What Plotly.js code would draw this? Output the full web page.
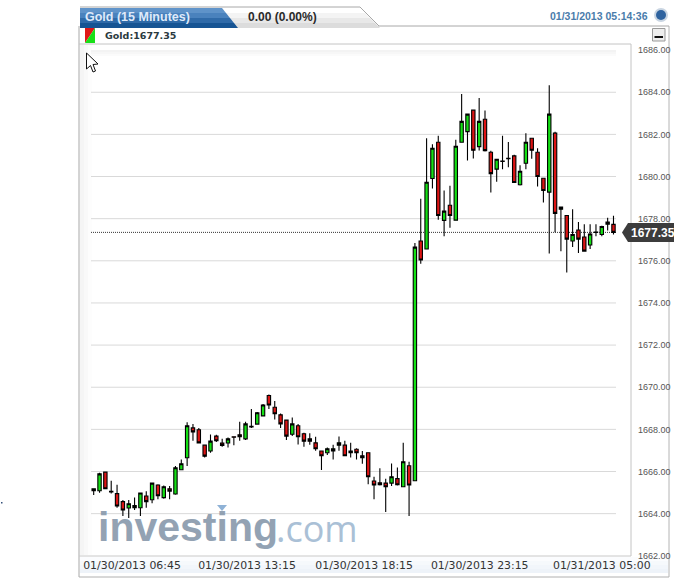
<!DOCTYPE html>
<html><head><meta charset="utf-8">
<script src="https://cdn.plot.ly/plotly-3.0.1.min.js"></script>
<style>html,body{margin:0;padding:0;background:#fff}#c{width:674px;height:579px}</style>
</head><body><div id="c"></div>
<script>
const opens=[1665.09,1665.09,1665.97,1665.06,1664.95,1664.57,1664.27,1664.28,1664.28,1664.84,
1664.66,1665.36,1664.76,1665.18,1664.93,1666.08,1666.65,1668.07,1667.98,1667.25,
1666.97,1667.68,1667.35,1667.35,1667.65,1667.74,1667.55,1668.15,1668.25,1668.64,
1669.61,1669.05,1668.69,1668.44,1667.77,1668.17,1667.79,1667.55,1667.36,1666.97,
1666.89,1666.98,1667.25,1667.25,1666.89,1667.06,1666.75,1666.89,1665.55,1665.47,
1665.45,1665.45,1665.66,1665.28,1666.27,1665.56,1676.94,1676.56,1679.91,1681.63,
1677.92,1678.64,1677.93,1681.63,1682.13,1683.15,1681.42,1682.72,1681.15,1680.35,
1680.74,1680.87,1680.98,1679.61,1680.63,1681.82,1681.15,1679.92,1679.26,1682.06,
1678.45,1678.15,1676.94,1677.46,1677.13,1676.75,1677.36,1677.25,1677.74,1677.73];
const highs=[1665.18,1665.94,1666.00,1665.56,1665.37,1664.65,1664.65,1664.77,1664.99,1665.06,
1665.47,1665.39,1665.34,1665.31,1666.26,1666.57,1668.34,1668.26,1668.06,1667.27,
1667.76,1667.74,1667.55,1667.62,1667.65,1668.36,1668.36,1668.97,1668.83,1669.20,
1669.65,1669.35,1668.75,1668.47,1668.56,1668.26,1667.84,1667.81,1667.65,1667.00,
1667.14,1667.27,1667.66,1667.46,1667.36,1667.10,1666.97,1666.91,1665.75,1666.16,
1665.66,1666.38,1666.19,1667.36,1666.46,1676.84,1678.94,1681.82,1681.53,1681.93,
1679.34,1679.56,1681.74,1683.92,1682.96,1683.15,1683.73,1683.13,1681.22,1680.82,
1681.93,1681.64,1681.03,1680.54,1682.06,1681.82,1681.34,1679.92,1684.33,1682.13,
1678.55,1678.15,1678.45,1677.84,1677.74,1677.74,1677.74,1677.66,1678.04,1678.14];
const lows=[1664.88,1664.99,1665.18,1664.96,1664.28,1663.89,1663.79,1664.17,1663.89,1664.28,
1664.49,1664.68,1664.71,1664.68,1664.90,1666.07,1666.26,1667.46,1667.33,1666.67,
1666.89,1667.40,1667.17,1667.14,1667.25,1667.46,1667.49,1668.07,1668.22,1668.63,
1668.97,1668.47,1668.07,1667.49,1667.68,1667.28,1667.17,1667.27,1666.98,1666.07,
1666.78,1666.57,1666.98,1666.72,1666.67,1666.57,1666.37,1665.39,1664.68,1665.34,
1664.08,1665.31,1665.34,1665.26,1663.89,1665.56,1675.86,1676.56,1679.43,1677.95,
1677.16,1677.57,1677.93,1681.61,1680.76,1680.85,1681.23,1681.19,1679.24,1679.75,
1680.35,1680.44,1679.72,1679.58,1680.35,1680.84,1679.53,1678.77,1676.35,1677.35,
1676.45,1675.45,1676.65,1676.37,1676.43,1676.56,1677.16,1677.16,1677.44,1677.25];
const closes=[1665.18,1665.89,1665.18,1665.03,1664.36,1664.17,1664.47,1664.38,1664.98,1664.57,
1665.45,1664.85,1665.28,1665.07,1666.18,1666.37,1668.17,1667.88,1667.36,1666.73,
1667.44,1667.46,1667.24,1667.55,1667.63,1667.65,1668.26,1668.12,1668.79,1669.16,
1669.16,1668.74,1668.26,1667.68,1668.26,1667.65,1667.44,1667.44,1667.08,1666.75,
1667.08,1667.08,1667.36,1666.75,1666.97,1666.89,1666.65,1665.75,1665.36,1665.37,
1665.28,1665.75,1665.37,1666.46,1665.36,1676.65,1676.04,1679.73,1681.34,1678.15,
1678.36,1678.15,1681.44,1682.62,1682.96,1681.25,1682.62,1681.23,1680.14,1680.82,
1680.71,1680.85,1679.72,1680.25,1681.63,1681.25,1680.00,1679.34,1682.96,1678.25,
1678.55,1677.03,1677.25,1677.03,1676.46,1677.27,1677.35,1677.63,1677.84,1677.35];
const yTicks=[1686,1684,1682,1680,1678,1676,1674,1672,1670,1668,1666,1664,1662];
const gridLevels=[1684,1682,1680,1678,1676,1674,1672,1670,1668,1666,1664];
const xTickPos=[6.56,26.25,46.3,66.1,87];
const xTickText=['01/30/2013 06:45','01/30/2013 13:15','01/30/2013 18:15','01/30/2013 23:15','01/31/2013 05:00'];
const lastPrice=1677.35;

const L=91,R=616,T=44,B=556;
const px=x=>(x-L)/(R-L), py=y=>(B-y)/(B-T);
const P=(d)=>d.replace(/(-?[\d.]+),(-?[\d.]+)/g,(m,a,b)=>px(+a)+','+py(+b));
const rect=(x0,y0,x1,y1,fill,line)=>({type:'rect',xref:'paper',yref:'paper',x0:px(x0),x1:px(x1),y0:py(y0),y1:py(y1),fillcolor:fill,line:line?{color:line,width:1}:{width:0},layer:'below'});
const seg=(x0,y0,x1,y1,c,w)=>({type:'line',xref:'paper',yref:'paper',x0:px(x0),x1:px(x1),y0:py(y0),y1:py(y1),line:{color:c,width:w||1},layer:'below'});
const poly=(d,fill,line,w,layer)=>({type:'path',xref:'paper',yref:'paper',path:P(d),fillcolor:fill,line:line?{color:line,width:w||1}:{width:0},layer:layer||'above'});

const shapes=[];
// frame
shapes.push(seg(79,26,79,577,'#a8a8a8'),seg(79,577,669,577,'#b0b0b0'),seg(669,26,669,577,'#b4b4b4'));
shapes.push(seg(378,26,669,26,'#a8a8a8'),seg(79,44,631,44,'#c4c4c4'),seg(631,44,631,556,'#c4c4c4'),seg(79,556,631,556,'#c8c8c8'));
// bottom strip + side fades
['#fbfcfe','#f6f9fc','#f2f6fb','#eef3f9'].forEach((c,i)=>shapes.push(rect(80,557+i*4,668,561+i*4,c)));
['#f5f5f5','#f9f9f9','#fdfdfd'].forEach((c,i)=>shapes.push(rect(80+i*4,45,84+i*4,555,c)));
['#f3f3f3','#f7f7f7','#fbfbfb'].forEach((c,i)=>shapes.push(rect(91,50+i*2,616,52+i*2,c)));
// gray tab
['#ffffff','#f4f4f4','#e8e8e8','#dcdcdc'].forEach((c,i)=>shapes.push(poly(`M 225,${8+i*5} L ${360+i*5},${8+i*5} L ${365+i*5},${13+i*5} L 225,${13+i*5} Z`,c,null,1,'below')));
shapes.push(seg(80,7,360,7,'#a8a8a8'),seg(360,7,379,26,'#a8a8a8'));
// blue tab
['#5f93c9','#4a82bd','#2f6aa8','#165493'].forEach((c,i)=>shapes.push(poly(`M 80,${8+i*5} L ${222+i*4},${8+i*5} L ${226+i*4},${13+i*5} L 80,${13+i*5} Z`,c,null,1,'below')));
// legend swatch
shapes.push(poly('M 85,28 L 95,28 L 85,43 Z','#e01818'),poly('M 95,28 L 95,43 L 85,43 Z','#18e018'));
// minimize button
shapes.push({type:'rect',xref:'paper',yref:'paper',x0:px(652.5),x1:px(665),y0:py(41),y1:py(28.5),fillcolor:'#eeeeee',line:{color:'#9a9a9a',width:1}},rect(654.5,36,663,38,'#111'));
shapes[shapes.length-1].layer='above';
// ball
shapes.push({type:'circle',xref:'paper',yref:'paper',x0:px(654),x1:px(668),y0:py(22),y1:py(8),fillcolor:'#c9d5e2',line:{width:0}});
shapes.push({type:'circle',xref:'paper',yref:'paper',x0:px(656),x1:px(666),y0:py(20),y1:py(10),fillcolor:'#2f639f',line:{width:0}});
// cursor
shapes.push(poly('M 86.5,53 L 86.5,69 L 90.5,65.5 L 93,72 L 95.5,71 L 93,64.5 L 98,64 Z','#ffffff','#111111',1));
// stray dot
shapes.push(rect(1,502,2.5,503.5,'#34507a'));
// grid
gridLevels.forEach(v=>shapes.push({type:'line',xref:'paper',yref:'y',x0:0,x1:1,y0:v,y1:v,line:{color:'#d9d9d9',width:1},layer:'below'}));
// last price line
shapes.push({type:'line',xref:'paper',yref:'y',x0:0,x1:1,y0:lastPrice,y1:lastPrice,line:{color:'#333',width:1,dash:'1px,1px'},layer:'below'});
// price tag
shapes.push(poly('M 622,232.5 L 628,223 L 674,223 L 674,242 L 628,242 Z','#3c3c3c'));

const ann=(text,x,y,size,color,family,extra)=>Object.assign({text,xref:'paper',yref:'paper',x:px(x),y:py(y),xanchor:'left',yanchor:'middle',showarrow:false,font:{size,color,family}},extra||{});
const SANS='"Liberation Sans",Arial,sans-serif', DJ='"DejaVu Sans",Verdana,sans-serif';
const annotations=[
 ann('<b>Gold (15 Minutes)</b>',83,17,12.5,'#dfeafa',SANS),
 ann('<b>0.00 (0.00%)</b>',246,17,12,'#2a2a2a',SANS),
 ann('<b>01/31/2013 05:14:36</b>',650,16,10.5,'#4a7cab',SANS,{xanchor:'right'}),
 ann('<b>Gold:1677.35</b>',103,35.5,9.5,'#2a3a40',DJ),
 ann('<b>1677.35</b>',628.5,233,12,'#ffffff',SANS),
 ann('<b>investing</b>',96,527,41,'#8a9bad',SANS,{opacity:0.92}),
 ann('.com',274,528,36,'#a3bbd3','"Open Sans",sans-serif',{opacity:0.92})
];

Plotly.newPlot('c',[{
 type:'candlestick',x:opens.map((_,i)=>i),open:opens,high:highs,low:lows,close:closes,
 increasing:{line:{color:'#000',width:1.1},fillcolor:'#14e014'},
 decreasing:{line:{color:'#000',width:1.1},fillcolor:'#dc1414'},
 whiskerwidth:0,hoverinfo:'skip'
}],{
 width:674,height:579,margin:{l:L,r:674-R,t:T,b:579-B,pad:0},
 paper_bgcolor:'#ffffff',plot_bgcolor:'rgba(0,0,0,0)',showlegend:false,boxgap:0.18,boxmode:'overlay',
 xaxis:{range:[-0.46,89.43],rangeslider:{visible:false},tickmode:'array',tickvals:xTickPos,ticktext:xTickText,
   showgrid:false,zeroline:false,showline:false,ticks:'',ticklabelstandoff:1,tickangle:0,tickfont:{family:DJ,size:10.9,color:'#333'}},
 yaxis:{range:[1661.99,1686.29],side:'right',tickmode:'array',tickvals:yTicks,ticktext:yTicks.map(v=>v.toFixed(2)),
   showgrid:false,zeroline:false,showline:false,ticks:'',ticklabelstandoff:21,tickfont:{family:SANS,size:9,color:'#555'}},
 shapes:shapes.concat([poly('M 217,505 L 227,505 L 222,511 Z','#8fb2d6')]),annotations
},{staticPlot:true,displayModeBar:false});
</script></body></html>
